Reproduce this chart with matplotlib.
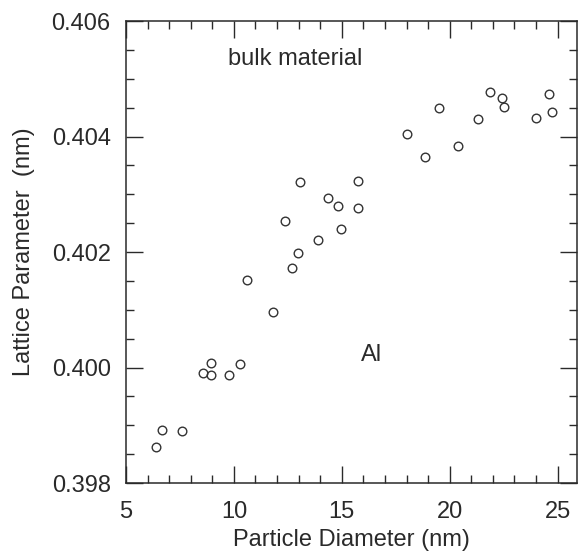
import matplotlib
matplotlib.use("Agg")
import matplotlib.pyplot as plt
from matplotlib.ticker import MultipleLocator, FormatStrFormatter

# Lattice parameter of Al nanoparticles versus particle diameter
diameter_nm = [6.39, 6.67, 7.58, 8.57, 8.96, 8.96, 9.77, 10.28, 10.59, 11.80,
               12.68, 12.96, 12.38, 13.05, 13.89, 14.36, 14.83, 14.95, 15.76, 15.76,
               18.04, 18.85, 19.50, 20.37, 21.31, 21.86, 22.43, 22.51, 23.99, 24.61,
               24.73]
lattice_nm = [0.39862, 0.39892, 0.39891, 0.39990, 0.40008, 0.39988, 0.39988, 0.40006,
              0.40151, 0.40096, 0.40173, 0.40199, 0.40253, 0.40322, 0.40221, 0.40294,
              0.40279, 0.40240, 0.40323, 0.40276, 0.40404, 0.40365, 0.40450, 0.40383,
              0.40431, 0.40478, 0.40467, 0.40452, 0.40432, 0.40474, 0.40443]

x_label = "Particle Diameter (nm)"
y_label = "Lattice Parameter  (nm)"
note_bulk = "bulk material"
note_element = "Al"

plt.rcParams["font.family"] = ["Liberation Sans", "DejaVu Sans"]
ink = "#2a2a2a"

fig = plt.figure(figsize=(5.79, 5.54), dpi=100)
ax = fig.add_axes([0.2176, 0.128, 0.7789, 0.834])

ax.plot(diameter_nm, lattice_nm, linestyle="none", marker="o", markersize=6.2,
        markerfacecolor="none", markeredgecolor="#333333", markeredgewidth=1.0)

ax.set_xlim(5, 25.9)
ax.set_ylim(0.398, 0.406)
ax.xaxis.set_major_locator(MultipleLocator(5))
ax.xaxis.set_minor_locator(MultipleLocator(1))
ax.yaxis.set_major_locator(MultipleLocator(0.002))
ax.yaxis.set_minor_locator(MultipleLocator(0.0005))
ax.yaxis.set_major_formatter(FormatStrFormatter("%.3f"))

ax.tick_params(which="both", direction="in", top=True, right=True,
               color=ink, labelcolor=ink, labelsize=17)
ax.tick_params(which="major", length=12, width=1.0)
ax.tick_params(which="minor", length=6, width=1.0)
ax.tick_params(axis="x", which="major", pad=13)
ax.tick_params(axis="y", which="major", pad=11)
for s in ax.spines.values():
    s.set_linewidth(1.1)
    s.set_color(ink)

ax.set_xlabel(x_label, fontsize=17, color=ink, labelpad=4)
ax.set_ylabel(y_label, fontsize=17, color=ink, labelpad=12)

ax.text(12.86, 0.40535, note_bulk, fontsize=17, color=ink, ha="center", va="center")
ax.text(16.4, 0.40022, note_element, fontsize=17, color=ink, ha="center", va="center")

fig.savefig("out.png", dpi=100, facecolor="white")
